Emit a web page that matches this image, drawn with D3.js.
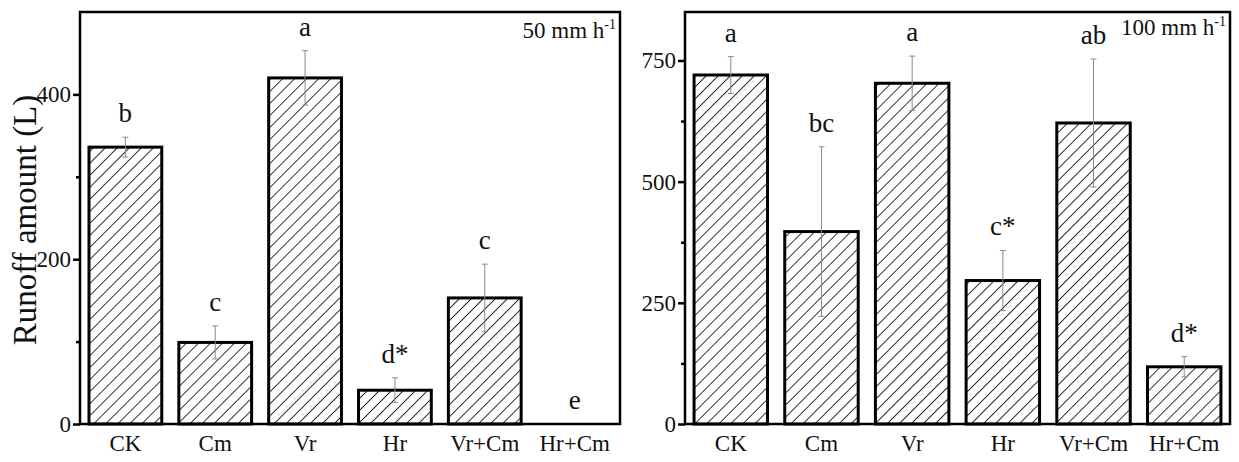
<!DOCTYPE html>
<html>
<head>
<meta charset="utf-8">
<script src="https://cdn.jsdelivr.net/npm/d3@7"></script>
<style>
  body { margin: 0; background: #fff; }
  svg { display: block; }
  text { font-family: "Liberation Serif", "Times New Roman", serif; fill: #111; }
</style>
</head>
<body>
<svg width="1239" height="462"></svg>
<script>
const categories = ["CK", "Cm", "Vr", "Hr", "Vr+Cm", "Hr+Cm"];

// 50 mm h-1
const runoff50 = [336, 99, 420, 41, 153, 0];
const err50 = [12, 20, 33, 15, 41, 0];
const letters50 = ["b", "c", "a", "d*", "c", "e"];
const ticks50 = [0, 200, 400];
const minor50 = [100, 300];

// 100 mm h-1
const runoff100 = [720, 397, 703, 296, 621, 118];
const err100 = [38, 175, 56, 62, 132, 21];
const letters100 = ["a", "bc", "a", "c*", "ab", "d*"];
const ticks100 = [0, 250, 500, 750];
const minor100 = [125, 375, 625];

let svg = d3.select("svg");

// hatch pattern for the bars
svg.append("defs").append("pattern")
    .attr("id", "hatch")
    .attr("patternUnits", "userSpaceOnUse")
    .attr("width", 8.5)
    .attr("height", 8.5)
    .attr("patternTransform", "rotate(45)")
    .append("line")
    .attr("x1", 0).attr("y1", 0)
    .attr("x2", 0).attr("y2", 8.5)
    .attr("stroke", "#000")
    .attr("stroke-width", 1.6);

function drawPanel(p) {
    const g = svg.append("g");

    let x = d3.scaleBand().domain(categories)
        .range([p.left, p.right])
        .paddingInner(0.19)
        .paddingOuter(0.1);
    let y = d3.scaleLinear().domain([0, p.max]).range([424, 12]);

    const data = categories.map((c, i) => ({c: c, v: p.values[i], e: p.errs[i], l: p.letters[i]}));

    // bars
    g.selectAll(".bar")
        .data(data.filter(d => d.v > 0))
        .enter().append("rect")
        .attr("class", "bar")
        .attr("x", d => x(d.c))
        .attr("width", x.bandwidth())
        .attr("y", d => y(d.v))
        .attr("height", d => y(0) - y(d.v))
        .attr("fill", "url(#hatch)")
        .attr("stroke", "#000")
        .attr("stroke-width", 3);

    // error bars
    const eb = g.selectAll(".err")
        .data(data.filter(d => d.e > 0))
        .enter().append("g")
        .attr("class", "err")
        .attr("stroke", "#8a8a8a")
        .attr("stroke-width", 1);
    eb.append("line")
        .attr("x1", d => x(d.c) + x.bandwidth() / 2)
        .attr("x2", d => x(d.c) + x.bandwidth() / 2)
        .attr("y1", d => y(d.v + d.e))
        .attr("y2", d => y(d.v - d.e));
    eb.append("line")
        .attr("x1", d => x(d.c) + x.bandwidth() / 2 - 3)
        .attr("x2", d => x(d.c) + x.bandwidth() / 2 + 3)
        .attr("y1", d => y(d.v + d.e))
        .attr("y2", d => y(d.v + d.e));
    eb.append("line")
        .attr("x1", d => x(d.c) + x.bandwidth() / 2 - 3)
        .attr("x2", d => x(d.c) + x.bandwidth() / 2 + 3)
        .attr("y1", d => y(d.v - d.e))
        .attr("y2", d => y(d.v - d.e));

    // significance letters
    g.selectAll(".letter")
        .data(data)
        .enter().append("text")
        .attr("class", "letter")
        .attr("x", d => x(d.c) + x.bandwidth() / 2)
        .attr("y", d => y(d.v + d.e) - 15)
        .attr("text-anchor", "middle")
        .attr("font-size", 27)
        .text(d => d.l);

    // y axis, major and minor ticks
    g.append("g")
        .attr("transform", "translate(" + p.left + ",0)")
        .call(d3.axisLeft(y).tickValues(p.ticks).tickSize(7).tickPadding(2))
        .call(a => a.select(".domain").remove())
        .call(a => a.selectAll("line").attr("stroke", "#000").attr("stroke-width", 2.5))
        .call(a => a.selectAll("text").attr("font-size", 23).attr("font-family", "Liberation Serif").attr("fill", "#111"));
    g.append("g")
        .attr("transform", "translate(" + p.left + ",0)")
        .call(d3.axisLeft(y).tickValues(p.minor).tickSize(4).tickFormat(""))
        .call(a => a.select(".domain").remove())
        .call(a => a.selectAll("line").attr("stroke", "#000").attr("stroke-width", 2.5));

    // x labels
    g.append("g")
        .attr("transform", "translate(0,424)")
        .call(d3.axisBottom(x).tickSize(0).tickPadding(7))
        .call(a => a.select(".domain").remove())
        .call(a => a.selectAll("text").attr("font-size", 23).attr("font-family", "Liberation Serif").attr("fill", "#111").attr("dy", "0.85em"));

    // frame
    g.append("rect")
        .attr("x", p.left)
        .attr("y", y(p.max))
        .attr("width", p.right - p.left)
        .attr("height", y(0) - y(p.max))
        .attr("fill", "none")
        .attr("stroke", "#000")
        .attr("stroke-width", 2.5);

    // rainfall intensity label
    const t = g.append("text")
        .attr("x", p.right - 4)
        .attr("y", p.labelY)
        .attr("text-anchor", "end")
        .attr("font-size", 23);
    t.append("tspan").text(p.label);
    t.append("tspan").attr("font-size", 14).attr("dy", -9).text("-1");
}

drawPanel({left: 80, right: 620, max: 500, values: runoff50, errs: err50, letters: letters50,
    ticks: ticks50, minor: minor50, label: "50 mm h", labelY: 38});
drawPanel({left: 685, right: 1230, max: 850, values: runoff100, errs: err100, letters: letters100,
    ticks: ticks100, minor: minor100, label: "100 mm h", labelY: 35});

// y axis title
svg.append("text")
    .attr("transform", "translate(36,220) rotate(-90)")
    .attr("text-anchor", "middle")
    .attr("font-size", 33)
    .text("Runoff amount (L)");
</script>
</body>
</html>
